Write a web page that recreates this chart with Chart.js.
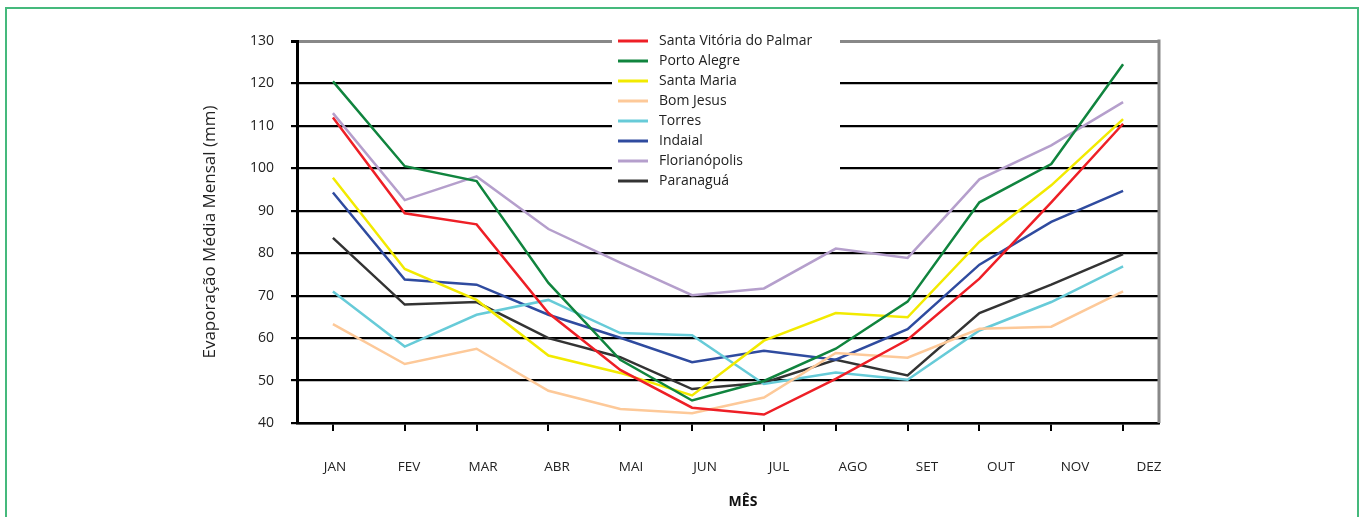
<!DOCTYPE html>
<html>
<head>
<meta charset="utf-8">
<script src="https://cdn.jsdelivr.net/npm/chart.js@4/dist/chart.umd.min.js"></script>
<style>
  body { margin: 0; background: #fff; }
  .frame { position: absolute; left: 5px; top: 7px; width: 1350px; height: 530px; border: 2px solid #45b97c; }
  .chart-box { position: absolute; left: 0; top: 0; width: 1359px; height: 517px; }
</style>
</head>
<body>
<div class="frame"></div>
<div class="chart-box"><canvas id="line-chart"></canvas></div>
<script>
var months = ["JAN", "FEV", "MAR", "ABR", "MAI", "JUN", "JUL", "AGO", "SET", "OUT", "NOV", "DEZ"];

var santaVitoria = [112, 89.4, 86.8, 65.9, 52.5, 43.6, 42, 50.4, 59.6, 74, 92, 110.5];
var portoAlegre = [120.5, 100.5, 97, 73, 54.9, 45.3, 49.9, 57.5, 68.6, 92, 101, 124.5];
var santaMaria = [97.8, 76.3, 69, 55.9, 51.8, 46.5, 59.4, 65.9, 64.9, 82.7, 96, 111.6];
var bomJesus = [63.3, 53.9, 57.5, 47.6, 43.3, 42.3, 46, 56.5, 55.4, 62.2, 62.7, 71];
var torres = [71, 58, 65.5, 69, 61.2, 60.7, 49.2, 51.9, 50.2, 61.8, 68.5, 76.9];
var indaial = [94.3, 73.8, 72.6, 65.5, 60.1, 54.3, 57, 54.9, 62.1, 77.3, 87.4, 94.7];
var florianopolis = [113, 92.5, 98.1, 85.7, 77.8, 70.1, 71.7, 81.1, 78.9, 97.4, 105.4, 115.6];
var paranagua = [83.6, 67.9, 68.5, 60, 55.5, 48, 49.5, 54.9, 51.2, 65.9, 72.6, 79.8];

var yTicks = [40, 50, 60, 70, 80, 90, 100, 110, 120, 130];

var FONT = "'Open Sans', sans-serif";

function serie(label, data, color) {
  return {
    label: label,
    data: data,
    borderColor: color,
    backgroundColor: color,
    borderWidth: 2.5,
    pointRadius: 0,
    tension: 0,
    fill: false,
    xAxisID: "x",
  };
}

// legend box drawn over the plot + right border + x title
var extras = {
  id: "extras",
  beforeDatasetsDraw: function (chart) {
    var c = chart.ctx, a = chart.chartArea;
    c.save();
    c.strokeStyle = "#888";
    c.lineWidth = 3;
    c.beginPath();
    c.moveTo(a.right, a.top - 1.5);
    c.lineTo(a.right, a.bottom);
    c.stroke();
    c.restore();
  },
  afterDraw: function (chart) {
    var c = chart.ctx;
    c.save();
    c.fillStyle = "#fff";
    c.fillRect(612, 25, 228, 168);
    chart.data.datasets.forEach(function (ds, i) {
      var y = 41 + i * 20;
      c.strokeStyle = ds.borderColor;
      c.lineWidth = 3;
      c.beginPath();
      c.moveTo(618, y);
      c.lineTo(648, y);
      c.stroke();
      c.fillStyle = "#222";
      c.font = "14px " + FONT;
      c.textBaseline = "middle";
      c.textAlign = "left";
      c.fillText(ds.label, 659, y);
    });
    c.font = "bold 14px " + FONT;
    c.textAlign = "center";
    c.fillStyle = "#111";
    c.fillText("MÊS", 743, 502);
    c.restore();
  },
};

var config = {
  type: "line",
  data: {
    labels: months,
    datasets: [
      serie("Santa Vitória do Palmar", santaVitoria, "#ee1f26"),
      serie("Porto Alegre", portoAlegre, "#10843e"),
      serie("Santa Maria", santaMaria, "#f2ea00"),
      serie("Bom Jesus", bomJesus, "#fdc999"),
      serie("Torres", torres, "#67cbd8"),
      serie("Indaial", indaial, "#2f4b9f"),
      serie("Florianópolis", florianopolis, "#b59fcc"),
      serie("Paranaguá", paranagua, "#333333"),
    ],
  },
  options: {
    responsive: true,
    maintainAspectRatio: false,
    animation: false,
    layout: { padding: { left: 190, top: 41, right: 200, bottom: 0 } },
    plugins: {
      legend: { display: false },
      tooltip: { enabled: false },
    },
    scales: {
      x: {
        type: "category",
        position: "bottom",
        weight: 0,
        offset: true,
        grid: {
          display: true,
          drawOnChartArea: false,
          drawTicks: true,
          tickLength: 8,
          color: "#000",
          lineWidth: 2,
        },
        border: { display: true, color: "#000", width: 2.5 },
        ticks: { display: false },
        afterFit: function (s) { s.height = 8; },
      },
      xLbl: {
        type: "linear",
        position: "bottom",
        weight: 1,
        min: -0.5135,
        max: 11.135,
        grid: { display: false, drawTicks: false },
        border: { display: false },
        afterBuildTicks: function (s) {
          s.ticks = months.map(function (m, i) { return { value: i }; });
        },
        ticks: {
          autoSkip: false,
          maxRotation: 0,
          padding: 28,
          color: "#222",
          font: { family: FONT, size: 13.5 },
          callback: function (v) { return months[v]; },
        },
        afterFit: function (s) { s.height = 86; },
      },
      y: {
        min: 40,
        max: 130,
        afterBuildTicks: function (s) {
          s.ticks = yTicks.map(function (v) { return { value: v }; });
        },
        grid: {
          color: function (ctx) { return ctx.tick && ctx.tick.value === 130 ? "#888" : "#000"; },
          tickColor: "#000",
          lineWidth: function (ctx) { return ctx.tick && ctx.tick.value === 130 ? 3 : 2.2; },
          tickLength: 6,
        },
        border: { display: true, color: "#000", width: 3 },
        ticks: {
          padding: 17,
          color: "#222",
          font: { family: FONT, size: 14 },
        },
        title: {
          display: true,
          text: "Evaporação Média Mensal (mm)",
          color: "#222",
          font: { family: FONT, size: 17 },
          padding: { top: 10, bottom: 0 },
        },
        afterFit: function (s) { s.width = 107; },
      },
    },
  },
  plugins: [extras],
};

var ctx = document.getElementById("line-chart").getContext("2d");
window.myLine = new Chart(ctx, config);
</script>
</body>
</html>
